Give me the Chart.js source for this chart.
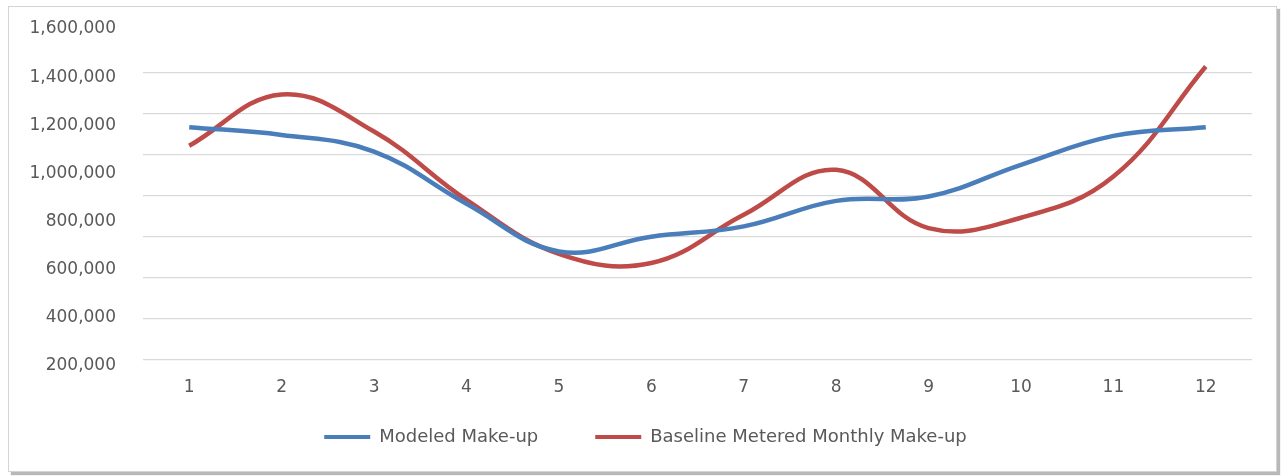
<!DOCTYPE html>
<html>
<head>
<meta charset="utf-8">
<script src="https://cdn.jsdelivr.net/npm/chart.js@4"></script>
<style>
  html, body { margin: 0; padding: 0; background: #ffffff; width: 1281px; height: 476px; overflow: hidden; }
  #frame { position: absolute; left: 8px; top: 6px; width: 1267px; height: 464px; border: 1px solid #d4d4d4; box-shadow: 3px 3px 1px #b8b8b8; background: #fff; }
  #c { position: absolute; left: 0; top: 0; }
</style>
</head>
<body>
<div id="frame"></div>
<canvas id="c" width="1281" height="476"></canvas>
<script>
// ---- data ----
const months = ['1', '2', '3', '4', '5', '6', '7', '8', '9', '10', '11', '12'];
const modeledMakeup = [1192000, 1160000, 1091000, 874000, 676000, 737000, 780000, 886000, 904000, 1036000, 1156000, 1192000];
const baselineMakeup = [1115000, 1328000, 1174000, 890000, 666000, 628000, 828000, 1015000, 773000, 816000, 987000, 1444000];
const seriesNames = ['Modeled Make-up', 'Baseline Metered Monthly Make-up'];
const yMin = 200000;
const yMax = 1600000;
const yStep = 200000;
// the picture's gridlines follow their own, tighter spacing
const gridLineCount = 8;

const FONT = "'DejaVu Sans', sans-serif";
const TEXT = '#595959';

// moves the legend box to where the reference has its row
const legendPlacement = {
  id: 'legendPlacement',
  afterLayout(chart, args, opts) {
    const lg = chart.legend;
    if (!lg) return;
    lg.top = opts.top;
    lg.bottom = chart.height;
    lg.height = lg.bottom - lg.top;
    lg.left = opts.left;
    lg.right = opts.right;
    lg.width = opts.right - opts.left;
  }
};

const noOverflow = (s) => { s.paddingTop = 0; s.paddingBottom = 0; s.paddingLeft = 0; s.paddingRight = 0; };

new Chart(document.getElementById('c'), {
  type: 'line',
  plugins: [legendPlacement],
  data: {
    labels: months,
    datasets: [
      {
        label: seriesNames[0],
        data: modeledMakeup,
        borderColor: '#4A7EBB',
        backgroundColor: '#4A7EBB',
        borderWidth: 4.5,
        pointRadius: 0,
        pointHoverRadius: 0,
        pointBorderWidth: 4,
        tension: 0.4,
        fill: false,
        yAxisID: 'y'
      },
      {
        label: seriesNames[1],
        data: baselineMakeup,
        borderColor: '#BE4B48',
        backgroundColor: '#BE4B48',
        borderWidth: 4.5,
        pointRadius: 0,
        pointHoverRadius: 0,
        pointBorderWidth: 4,
        tension: 0.4,
        fill: false,
        yAxisID: 'y'
      }
    ]
  },
  options: {
    responsive: false,
    animation: false,
    devicePixelRatio: 1,
    layout: { padding: { left: 20, right: 29, top: 29, bottom: 29 } },
    plugins: {
      tooltip: { enabled: false },
      legendPlacement: { top: 371, left: 39, right: 1252 },
      legend: {
        position: 'bottom',
        align: 'center',
        maxHeight: 50,
        labels: {
          usePointStyle: true,
          pointStyle: 'line',
          pointStyleWidth: 46,
          boxHeight: 18,
          padding: 57,
          color: TEXT,
          font: { family: FONT, size: 18 }
        }
      }
    },
    scales: {
      x: {
        type: 'category',
        offset: true,
        grid: { display: false, drawTicks: false },
        border: { display: false },
        ticks: { color: TEXT, font: { family: FONT, size: 17 }, padding: 11, maxRotation: 0, autoSkip: false },
        afterFit: (s) => { s.height = 31; noOverflow(s); }
      },
      y: {
        position: 'left',
        weight: 1,
        min: yMin,
        max: yMax,
        grid: { display: false, drawTicks: false },
        border: { display: false },
        ticks: {
          stepSize: yStep,
          padding: 27,
          color: TEXT,
          font: { family: FONT, size: 17 },
          callback: (v) => Number(v).toLocaleString('en-US')
        },
        afterFit: (s) => { s.width = 123; noOverflow(s); }
      },
      yGrid: {
        position: 'left',
        weight: 0,
        min: -0.1462,
        max: 8.065,
        grid: { color: '#d9d9d9', lineWidth: 1.2, drawTicks: false },
        border: { display: false },
        ticks: { display: false },
        afterBuildTicks: (s) => {
          const t = [];
          for (let i = 0; i < gridLineCount; i++) t.push({ value: i });
          s.ticks = t;
        },
        afterFit: (s) => { s.width = 0; noOverflow(s); }
      }
    }
  }
});
</script>
</body>
</html>
